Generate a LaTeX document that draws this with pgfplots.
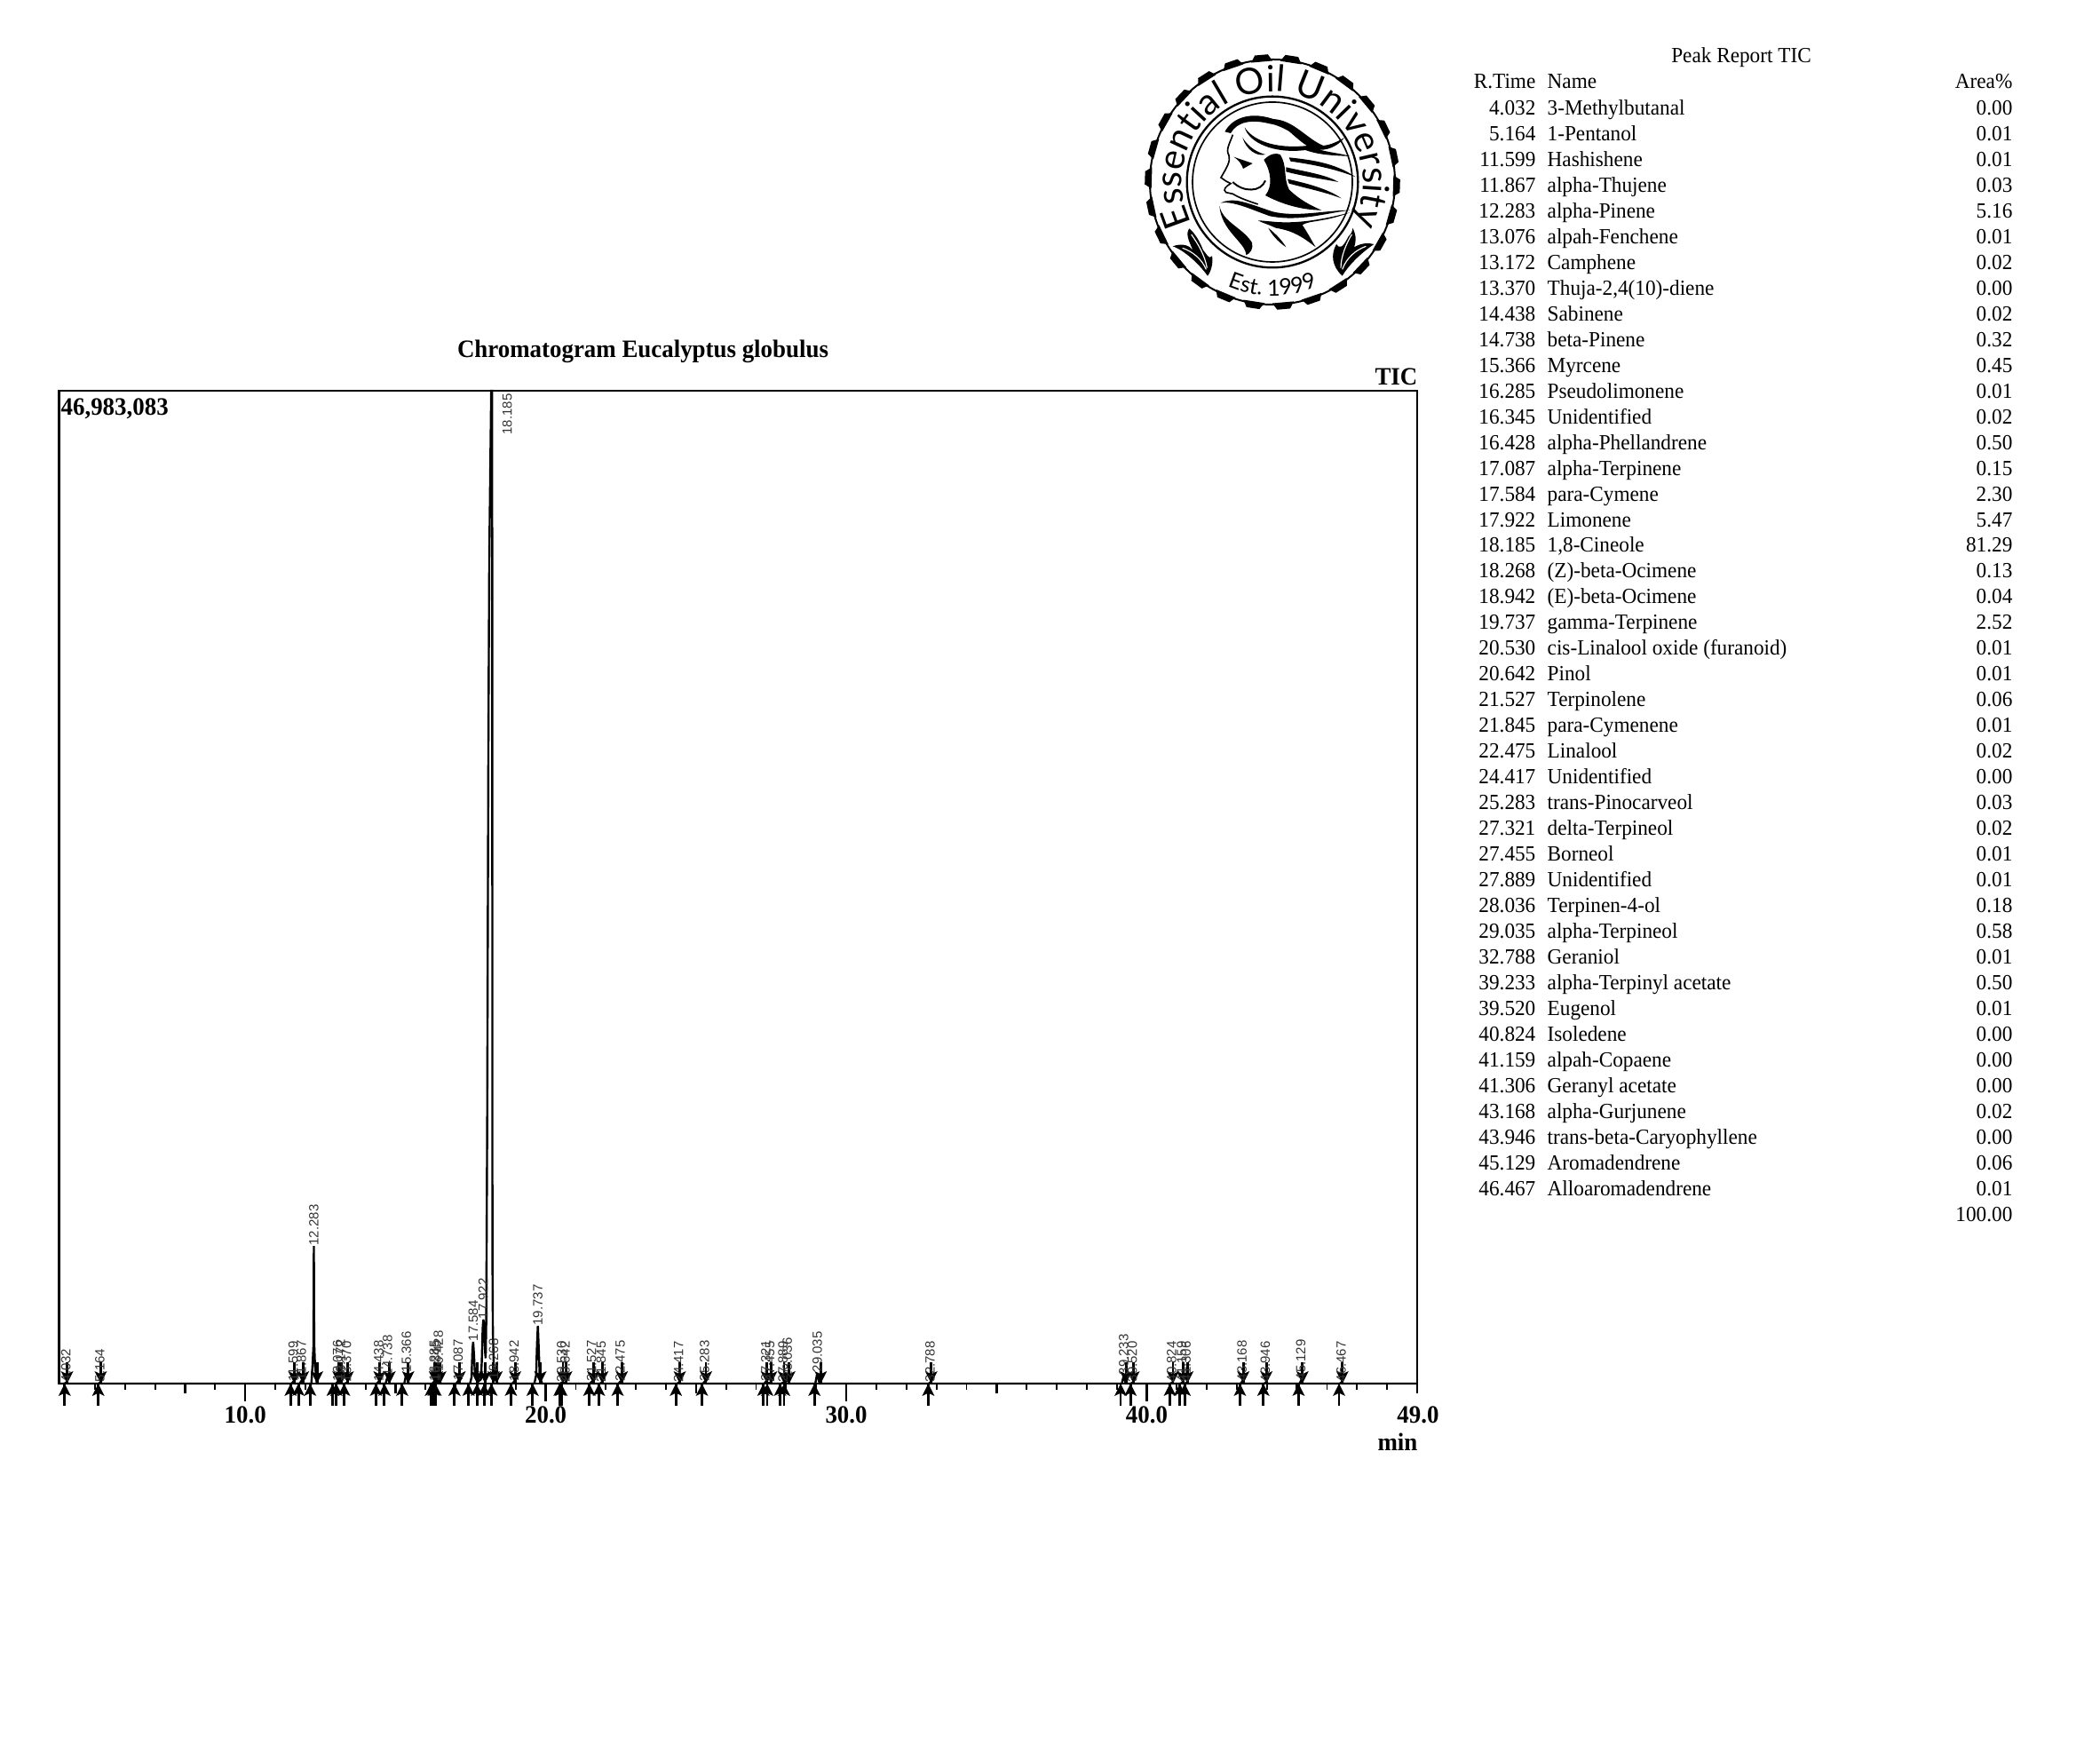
\documentclass[border=0pt]{standalone}
\usepackage{fontspec}
\usepackage{pgfplots}
\usepackage{pgfplotstable}
\pgfplotsset{compat=1.18}
\usetikzlibrary{decorations.text}
\setmainfont[FakeStretch=0.955]{Liberation Serif}
\newfontfamily\labfont{Liberation Sans}
\newfontfamily\logofont{Lato}
\newcommand\LogoA{\logofont\fontsize{12.3}{12}\selectfont}
\newcommand\LogoB{\logofont\fontsize{7.5}{8}\selectfont}
\newcommand\tf{\fontsize{7.3}{8}\selectfont}
\newcommand\bfl{\fontsize{8.45}{10}\selectfont\bfseries}
\pgfdeclareplotmark{uparr}{%
  \pgfpathmoveto{\pgfqpoint{0pt}{-7.6pt}}\pgfpathlineto{\pgfqpoint{0pt}{0pt}}\pgfusepathqstroke
  \pgfpathmoveto{\pgfqpoint{0pt}{0pt}}\pgfpathlineto{\pgfqpoint{-2.1pt}{-4.2pt}}\pgfpathlineto{\pgfqpoint{0pt}{-3.2pt}}\pgfpathlineto{\pgfqpoint{2.1pt}{-4.2pt}}\pgfpathclose\pgfusepathqfill}
\pgfdeclareplotmark{downarr}{%
  \pgfpathmoveto{\pgfqpoint{0pt}{7.2pt}}\pgfpathlineto{\pgfqpoint{0pt}{0pt}}\pgfusepathqstroke
  \pgfpathmoveto{\pgfqpoint{0pt}{0pt}}\pgfpathlineto{\pgfqpoint{-2.1pt}{4.2pt}}\pgfpathlineto{\pgfqpoint{0pt}{3.2pt}}\pgfpathlineto{\pgfqpoint{2.1pt}{4.2pt}}\pgfpathclose\pgfusepathqfill}
% peak start, peak end, label position and label
\pgfplotstableread{
up down lx ly lab
3.99 4.07 4.032 0.042 4.032
5.11 5.19 5.164 0.042 5.164
11.51 11.63 11.599 0.084 11.599
11.77 11.92 11.867 0.126 11.867
12.16 12.39 12.283 6.51 12.283
12.91 13.10 13.076 0.084 13.076
13.03 13.20 13.172 0.126 13.172
13.29 13.41 13.370 0.042 13.370
14.35 14.47 14.438 0.084 14.438
14.63 14.80 14.738 0.336 14.738
15.22 15.42 15.366 0.504 15.366
16.18 16.31 16.285 0.084 16.285
16.27 16.38 16.345 0.084 16.345
16.33 16.49 16.428 0.546 16.428
16.96 17.13 17.087 0.126 17.087
17.43 17.72 17.584 1.98 17.584
17.71 17.98 17.922 3.03 17.922
17.95 18.26 18.72 44.88 18.185
18.19 18.36 18.268 0.168 18.268
18.84 18.98 18.942 0.084 18.942
19.56 19.82 19.737 2.73 19.737
20.46 20.57 20.530 0.042 20.530
20.52 20.68 20.642 0.042 20.642
21.45 21.58 21.527 0.084 21.527
21.77 21.88 21.845 0.042 21.845
22.39 22.53 22.475 0.084 22.475
24.33 24.46 24.417 0.042 24.417
25.20 25.33 25.283 0.084 25.283
27.24 27.36 27.321 0.084 27.321
27.37 27.50 27.455 0.042 27.455
27.80 27.93 27.889 0.042 27.889
27.93 28.10 28.036 0.21 28.036
28.94 29.15 29.035 0.504 29.035
32.73 32.83 32.788 0.042 32.788
39.13 39.31 39.233 0.378 39.233
39.46 39.56 39.520 0.042 39.520
40.77 40.87 40.824 0.042 40.824
41.10 41.20 41.159 0.042 41.159
41.26 41.35 41.306 0.042 41.306
43.10 43.21 43.168 0.084 43.168
43.88 43.98 43.946 0.042 43.946
45.05 45.18 45.129 0.126 45.129
46.40 46.51 46.467 0.042 46.467
}\peaks
\pgfplotstableread{
x y
3.8 0
3.98 0
4.032 0.042
4.08 0
5.11 0
5.164 0.042
5.21 0
11.54 0
11.599 0.084
11.65 0
11.81 0
11.867 0.126
11.92 0
12.20 0
12.24 0.9
12.27 1.8
12.283 6.51
12.295 1.9
12.32 0.9
12.38 0
13.02 0
13.076 0.084
13.12 0.05
13.172 0.126
13.22 0
13.32 0
13.37 0.042
13.42 0
14.38 0
14.438 0.084
14.49 0
14.67 0
14.738 0.336
14.81 0
15.29 0
15.366 0.504
15.44 0
16.22 0
16.285 0.084
16.345 0.1
16.428 0.546
16.50 0
17.02 0
17.087 0.126
17.15 0
17.48 0
17.53 0.3
17.56 1.6
17.584 1.98
17.61 1.4
17.65 0.3
17.74 0.08
17.84 0.2
17.87 1.0
17.90 2.6
17.922 3.03
17.95 2.8
17.98 1.5
18.00 1.2
18.02 3.0
18.03 6
18.05 12
18.09 30
18.12 39
18.16 44
18.185 46.983
18.215 46.983
18.22 30
18.225 6
18.24 2.5
18.268 0.9
18.31 0.3
18.40 0
18.88 0
18.942 0.084
19.00 0
19.62 0
19.68 0.4
19.71 1.9
19.737 2.73
19.765 1.7
19.80 0.3
19.88 0
20.48 0
20.53 0.042
20.642 0.042
20.70 0
21.47 0
21.527 0.084
21.58 0
21.80 0
21.845 0.042
21.90 0
22.42 0
22.475 0.084
22.53 0
24.37 0
24.417 0.042
24.47 0
25.23 0
25.283 0.084
25.34 0
27.27 0
27.321 0.084
27.38 0.02
27.455 0.042
27.52 0
27.84 0
27.889 0.042
27.96 0.03
28.036 0.21
28.10 0
28.97 0
29.035 0.504
29.11 0
32.74 0
32.788 0.042
32.84 0
39.17 0
39.233 0.378
39.30 0
39.47 0
39.52 0.042
39.57 0
40.78 0
40.824 0.03
40.87 0
41.11 0
41.159 0.03
41.21 0
41.26 0
41.306 0.03
41.36 0
43.12 0
43.168 0.084
43.22 0
43.90 0
43.946 0.03
44.00 0
45.08 0
45.129 0.126
45.18 0
46.42 0
46.467 0.042
46.52 0
49 0
}\trace
\begin{document}
\begin{tikzpicture}
\useasboundingbox (0,0) rectangle (709.5pt,591.9pt);
\begin{axis}[
  at={(19.92pt,124.5pt)}, anchor=south west, scale only axis,
  width=458.9pt, height=335.4pt,
  xmin=3.8, xmax=49, ymin=0, ymax=46.983,
  clip=false, axis line style={line width=0.85pt},
  ytick=\empty, xtick pos=bottom, tick align=outside,
  xtick={10,20,30,40},
  xticklabels={10.0,20.0,30.0,40.0},
  xticklabel style={font=\bfl, yshift=1.9pt},
  extra x ticks={15,25,35,45,8,49},
  extra x tick labels={},
  extra x tick style={major tick length=3.3pt, tick style={line width=0.75pt}},
  minor xtick={4,5,6,7,8,9,11,12,13,14,16,17,18,19,21,22,23,24,26,27,28,29,31,32,33,34,36,37,38,39,41,42,43,44,46,47,48},
  major tick length=6pt, minor tick length=2.2pt,
  tick style={black, line width=0.75pt},
  minor tick style={line width=0.55pt},
]
\addplot[black, line width=0.72pt, line join=miter, miter limit=3] table[x=x,y=y] {\trace};
\addplot[only marks, mark=uparr, line width=0.85pt, black] table[x=up, y expr=0] {\peaks};
\addplot[only marks, mark=downarr, line width=0.85pt, black] table[x=down, y expr=0] {\peaks};
\addplot[only marks, mark=none, point meta=explicit symbolic,
  nodes near coords,
  every node near coord/.style={rotate=90, anchor=west, inner sep=0pt, xshift=0pt,
     font=\labfont\fontsize{4.5}{5}\selectfont, text=black!80}]
  table[x=lx, y=ly, meta=lab] {\peaks};
\end{axis}
% texts in reference pixels
\begin{scope}[shift={(0,591.9pt)}, x=0.3pt, y=-0.3pt]
\node[font=\bfl, anchor=base] at (724,403) {Chromatogram Eucalyptus globulus};
\node[font=\bfl, anchor=base east, inner sep=0] at (1597,434) {TIC};
\node[font=\bfl, anchor=base west, inner sep=0] at (68,468) {46,983,083};
\node[font=\bfl, anchor=base] at (1597,1602) {49.0};
\node[font=\bfl, anchor=base east, inner sep=0] at (1597,1633) {min};
\node[font=\tf, anchor=base] at (1961,71) {Peak Report TIC};
\node[font=\tf, anchor=base east, inner sep=0] at (1730,100) {R.Time};
\node[font=\tf, anchor=base west, inner sep=0] at (1742,100) {Name};
\node[font=\tf, anchor=base east, inner sep=0] at (2267,100) {Area\%};
\foreach \r/\n/\a [count=\i] in {
4.032/3-Methylbutanal/0.00,5.164/1-Pentanol/0.01,11.599/Hashishene/0.01,11.867/alpha-Thujene/0.03,
12.283/alpha-Pinene/5.16,13.076/alpah-Fenchene/0.01,13.172/Camphene/0.02,{13.370/Thuja-2,4(10)-diene/0.00},
14.438/Sabinene/0.02,14.738/beta-Pinene/0.32,15.366/Myrcene/0.45,16.285/Pseudolimonene/0.01,
16.345/Unidentified/0.02,16.428/alpha-Phellandrene/0.50,17.087/alpha-Terpinene/0.15,17.584/para-Cymene/2.30,
17.922/Limonene/5.47,{18.185/1,8-Cineole/81.29},18.268/(Z)-beta-Ocimene/0.13,18.942/(E)-beta-Ocimene/0.04,
19.737/gamma-Terpinene/2.52,20.530/cis-Linalool oxide (furanoid)/0.01,20.642/Pinol/0.01,21.527/Terpinolene/0.06,
21.845/para-Cymenene/0.01,22.475/Linalool/0.02,24.417/Unidentified/0.00,25.283/trans-Pinocarveol/0.03,
27.321/delta-Terpineol/0.02,27.455/Borneol/0.01,27.889/Unidentified/0.01,28.036/Terpinen-4-ol/0.18,
29.035/alpha-Terpineol/0.58,32.788/Geraniol/0.01,39.233/alpha-Terpinyl acetate/0.50,39.520/Eugenol/0.01,
40.824/Isoledene/0.00,41.159/alpah-Copaene/0.00,41.306/Geranyl acetate/0.00,43.168/alpha-Gurjunene/0.02,
43.946/trans-beta-Caryophyllene/0.00,45.129/Aromadendrene/0.06,46.467/Alloaromadendrene/0.01}{
  \pgfmathsetmacro\yy{129.5+(\i-1)*28.97}
  \node[font=\tf, anchor=base east, inner sep=0] at (1730,\yy) {\r};
  \node[font=\tf, anchor=base west, inner sep=0] at (1742,\yy) {\n};
  \node[font=\tf, anchor=base east, inner sep=0] at (2267,\yy) {\a};
}
\node[font=\tf, anchor=base east, inner sep=0] at (2267,1375) {100.00};
\end{scope}
% logo
\begin{scope}[shift={(429.9pt,530.4pt)}]
\draw[line width=0.6pt] (0,0) circle (41.4pt);
\foreach \t in {0,13.85,...,359}{
  \fill[rotate=\t+5] (-3.6pt,40.8pt) -- (-2.2pt,43.1pt) -- (2.2pt,43.1pt) -- (3.6pt,40.8pt) -- cycle;
}
\draw[line width=0.7pt] (0,0) circle (28.9pt);
\draw[line width=0.5pt] (0,0) circle (27pt);
\path[decorate, decoration={text along path, text align=center,
   text={|\LogoA|Essential Oil University}}] (225:30.6pt) arc (225:-45:30.6pt);
\path[decorate, decoration={text along path, text align=center,
   text={|\LogoB|Est. 1999}}] (-122:38.4pt) arc (-122:-58:38.4pt);
\end{scope}
\begin{scope}[shift={(378pt,579.9pt)}, x=0.1pt, y=-0.1pt]
% hair and face, in a coarse freehand
\fill (358,325) .. controls (385,275) and (450,255) .. (530,285) .. controls (590,305) and (630,340) .. (672,375) .. controls (610,350) and (560,305) .. (510,298) .. controls (450,283) and (400,290) .. (378,330) -- cycle;
\fill (520,282) .. controls (590,285) and (630,345) .. (690,372) .. controls (715,370) and (740,358) .. (762,345) .. controls (740,375) and (700,392) .. (660,385) .. controls (610,365) and (570,310) .. (520,282) -- cycle;
\fill (425,310) .. controls (450,350) and (520,385) .. (640,372) .. controls (690,395) and (740,395) .. (782,408) .. controls (730,405) and (680,405) .. (630,387) .. controls (530,400) and (440,365) .. (425,310) -- cycle;
\fill (418,345) .. controls (440,380) and (470,395) .. (495,402) .. controls (465,410) and (430,385) .. (418,345) -- cycle;
\fill (490,420) .. controls (510,400) and (530,395) .. (545,402) .. controls (570,440) and (555,480) .. (575,520) .. controls (610,555) and (650,575) .. (685,590) .. controls (620,590) and (550,570) .. (495,540) .. controls (520,510) and (515,460) .. (490,420) -- cycle;
\fill (575,412) .. controls (650,420) and (730,430) .. (800,478) .. controls (730,450) and (650,435) .. (580,425) -- cycle;
\fill (565,445) .. controls (630,460) and (700,470) .. (742,495) .. controls (690,485) and (620,475) .. (565,460) -- cycle;
\fill (570,485) .. controls (640,500) and (710,520) .. (752,550) .. controls (700,530) and (630,515) .. (575,500) -- cycle;
\fill (345,565) .. controls (390,545) and (430,565) .. (520,595) .. controls (600,615) and (700,590) .. (782,590) .. controls (700,600) and (610,630) .. (510,610) .. controls (440,585) and (390,560) .. (345,565) -- cycle;
\fill (340,575) .. controls (350,630) and (420,650) .. (450,700) .. controls (455,720) and (445,735) .. (430,742) .. controls (430,700) and (345,660) .. (340,575) -- cycle;
\fill (470,625) .. controls (520,625) and (580,650) .. (780,598) .. controls (700,630) and (640,625) .. (620,640) .. controls (640,670) and (650,690) .. (665,715) .. controls (620,680) and (590,660) .. (530,650) .. controls (510,640) and (490,635) .. (470,625) -- cycle;
\fill (505,650) .. controls (530,670) and (550,690) .. (565,715) .. controls (535,695) and (515,670) .. (505,650) -- cycle;
\draw[line width=0.5pt] (385,335) .. controls (375,365) and (360,385) .. (372,405) .. controls (378,425) and (365,445) .. (345,480) -- (362,492) -- (378,500) .. controls (362,510) and (350,520) .. (362,530) -- (385,535) .. controls (410,550) and (440,560) .. (470,570);
\fill (388,410) -- (452,432) -- (420,450) .. controls (415,435) and (405,420) .. (388,410) -- cycle;
\draw[line width=0.6pt] (385,495) .. controls (420,530) and (480,530) .. (495,490);
% leaves
\fill (300,812) .. controls (270,770) and (220,725) .. (182,712) .. controls (215,700) and (240,710) .. (250,725) .. controls (235,690) and (225,670) .. (238,652) .. controls (260,670) and (275,700) .. (285,725) .. controls (295,735) and (305,760) .. (315,745) .. controls (320,770) and (310,800) .. (300,812) -- cycle;
\draw[white, line width=0.35pt] (295,790) .. controls (280,755) and (250,730) .. (215,718);
\draw[white, line width=0.35pt] (298,785) .. controls (290,740) and (265,700) .. (245,672);
\fill (755,812) .. controls (720,780) and (715,740) .. (735,705) .. controls (745,720) and (755,720) .. (775,680) .. controls (785,670) and (790,660) .. (790,650) .. controls (805,680) and (800,700) .. (795,715) .. controls (820,700) and (845,700) .. (862,705) .. controls (825,730) and (780,770) .. (755,812) -- cycle;
\draw[white, line width=0.35pt] (755,790) .. controls (770,750) and (800,725) .. (835,712);
\draw[white, line width=0.35pt] (750,785) .. controls (750,745) and (770,700) .. (787,672);
\end{scope}
\end{tikzpicture}
\end{document}
